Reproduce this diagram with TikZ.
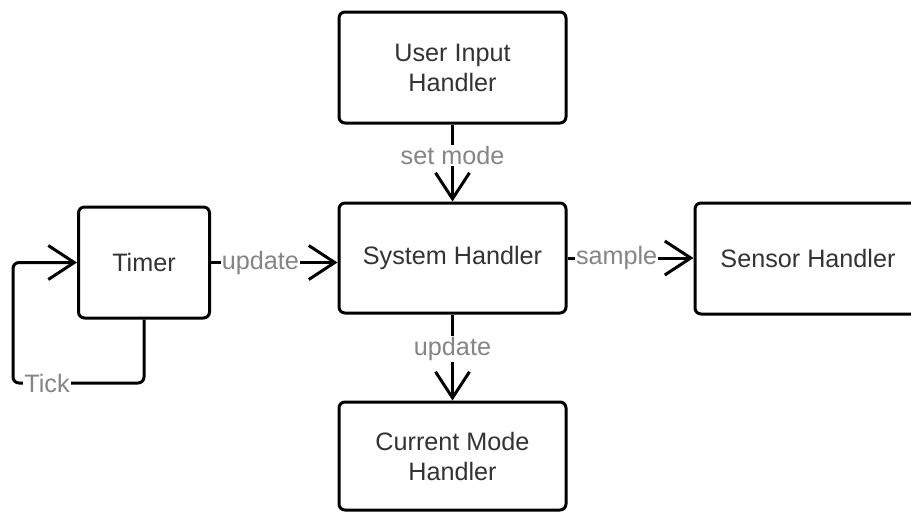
\documentclass[tikz,border=0pt]{standalone}
\usepackage{fontspec}
\setmainfont{Liberation Sans}
\usetikzlibrary{arrows.meta}
\definecolor{boxtext}{HTML}{333333}
\definecolor{labeltext}{HTML}{858585}
\begin{document}
\begin{tikzpicture}[x=0.5pt,y=-0.5pt,
  block/.style={draw, line width=1.5pt, rounded corners=3pt, fill=white,
    text=boxtext, align=center, inner sep=0pt,
    font=\fontsize{12.6}{15}\selectfont},
  flow/.style={draw, line width=1.5pt,
    -{Straight Barb[length=13pt,width=17pt]}},
  lbl/.style={fill=white, text=labeltext, inner sep=0.6pt,
    font=\fontsize{12.6}{15}\selectfont}]
\useasboundingbox (0,0) rectangle (911,511);
\clip (0,0) rectangle (911,511);

% component boxes
\node[block, minimum width=113.5pt, minimum height=55.5pt] (user)   at (452.5,67.5) {User Input\\Handler};
\node[block, minimum width=113.5pt, minimum height=55pt]   (sys)    at (452.5,258)  {System Handler};
\node[block, minimum width=113.5pt, minimum height=54pt]   (cur)    at (452.5,456)  {Current Mode\\Handler};
\node[block, minimum width=65.5pt,  minimum height=55.5pt] (timer)  at (144,262.5)  {Timer};
\node[block, minimum width=113pt,   minimum height=55.5pt] (sensor) at (808,258.5)  {Sensor Handler};

% message flows
\draw[flow] (user) -- node[lbl, pos=0.4] {set mode} (sys);
\draw[flow] (sys) -- node[lbl, pos=0.4] {update} (cur);
\draw[flow] (timer.east) -- node[lbl, pos=0.39] {update} (timer.east -| sys.west);
\draw[flow] (sys.east) -- node[lbl, pos=0.39] {sample} (sys.east -| sensor.west);

% timer tick loop
\coordinate (loopl) at (13,383);
\draw[flow, rounded corners=3pt] (timer.south) |- node[lbl, pos=0.87] {Tick} (loopl) |- (timer.west);
\end{tikzpicture}
\end{document}
